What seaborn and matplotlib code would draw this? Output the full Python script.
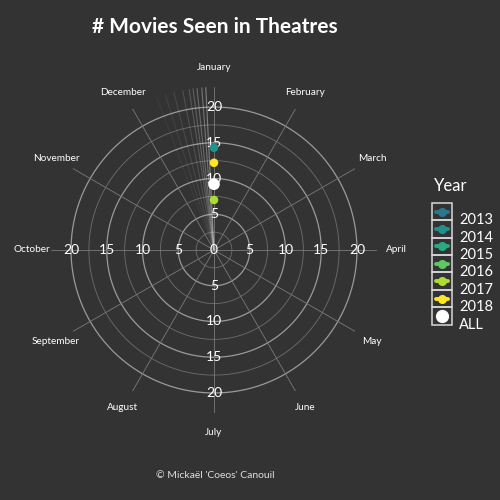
import matplotlib
matplotlib.use("Agg")
import matplotlib.pyplot as plt
from matplotlib.lines import Line2D
from matplotlib.patches import Rectangle
import numpy as np
import pandas as pd
import seaborn as sns

# data
months = ["January", "February", "March", "April", "May", "June",
          "July", "August", "September", "October", "November", "December"]
years = ["2013", "2014", "2015", "2016", "2017", "2018", "ALL"]
year_colors = ["#2a788e", "#21918c", "#25ac82", "#5ec962", "#addc30", "#fde725", "#ffffff"]
point_month = ["January", "January", "January", "January"]
point_year = ["2017", "ALL", "2018", "2014"]
point_count = [7, 9.2, 12.2, 14.3]
# faint trailing lines just before January (degrees before Jan), with alpha
trail_deg = [2.9, 4.3, 6.0, 7.4, 8.8, 11.1, 14.3, 17.4, 20.5]
trail_alpha = [0.45, 0.38, 0.32, 0.27, 0.22, 0.17, 0.13, 0.09, 0.06]
r_ticks = [5, 10, 15, 20]
r_minor = [2.5, 7.5, 12.5, 17.5]

bg = "#333333"
sns.set_style("dark", {"axes.facecolor": bg, "figure.facecolor": bg})
plt.rcParams["font.family"] = ["Lato", "DejaVu Sans"]

fig = plt.figure(figsize=(5, 5), dpi=100)
ax = fig.add_axes([0.102, 0.174, 0.652, 0.652], projection="polar")
ax.set_facecolor(bg)
ax.set_theta_zero_location("N")
ax.set_theta_direction(-1)
rmax = 22.8
ax.spines["polar"].set_visible(False)
ax.grid(False)

month_theta = {m: i * 2 * np.pi / 12 for i, m in enumerate(months)}

# grid circles
th = np.linspace(0, 2 * np.pi, 400)
for r in r_minor:
    ax.plot(th, np.full_like(th, r), color="#6e6e6e", lw=0.6, zorder=1)
for r in r_ticks:
    ax.plot(th, np.full_like(th, r), color="#9a9a9a", lw=0.9, zorder=1)
# month spokes
for m in months:
    ax.plot([month_theta[m]] * 2, [0, rmax], color="#7a7a7a", lw=0.6, zorder=1)
for d, a in zip(trail_deg, trail_alpha):
    t = np.deg2rad(-d)
    ax.plot([t, t], [0, rmax], color="#dddddd", lw=0.8, alpha=a, zorder=1)

# month labels
for m in months:
    ax.text(month_theta[m], 25.5, m, color="white", fontsize=7.2,
            ha="center", va="center", clip_on=False)

# radial labels in four directions
ax.text(0, 0, "0", color="white", fontsize=10, ha="center", va="center", zorder=3)
for r in r_ticks:
    for ang in [0, 90, 180, 270]:
        ax.text(np.deg2rad(ang), r, str(r), color="white", fontsize=10,
                ha="center", va="center", zorder=3)

df = pd.DataFrame({"month": point_month, "year": point_year, "count": point_count})
df["theta"] = df["month"].map(month_theta)
palette = dict(zip(years, year_colors))
sizes = {y: (70 if y == "ALL" else 38) for y in years}
sns.scatterplot(data=df, x="theta", y="count", hue="year", size="year",
                palette=palette, sizes=sizes, linewidth=0, legend=False,
                ax=ax, zorder=4)
ax.set_xlabel("")
ax.set_ylabel("")
ax.set_xticks([])
ax.set_yticks([])
ax.set_ylim(0, rmax)


class BoxKey:
    # legend key: white-bordered box with line + point inside
    def __init__(self, color, big=False):
        self.color = color
        self.big = big

    def legend_artist(self, legend, orig_handle, fontsize, handlebox):
        x0, y0 = handlebox.xdescent, handlebox.ydescent
        w, h = handlebox.width, handlebox.height
        tr = handlebox.get_transform()
        rect = Rectangle((x0, y0), w, h, facecolor="none", edgecolor="#d8d8d8",
                         lw=1.1, transform=tr)
        handlebox.add_artist(rect)
        if not self.big:
            ln = Line2D([x0 + 0.2 * w, x0 + 0.8 * w], [y0 + h / 2] * 2,
                        color=self.color, lw=2.8, transform=tr)
            handlebox.add_artist(ln)
            mk = Line2D([x0 + w / 2], [y0 + h / 2], color=self.color, lw=0,
                        marker="o", markersize=5.5, transform=tr)
        else:
            mk = Line2D([x0 + w / 2], [y0 + h / 2], color=self.color, lw=0,
                        marker="o", markersize=8.5, transform=tr)
        handlebox.add_artist(mk)
        return rect


handles = [Line2D([], [], color=c) for c in year_colors]
hmap = {h: BoxKey(c, y == "ALL") for h, c, y in zip(handles, year_colors, years)}
leg = fig.legend(handles, years, loc="center left",
                 bbox_to_anchor=(0.85, 0.457), frameon=False, fontsize=10.5,
                 handlelength=1.35, handleheight=1.46,
                 labelspacing=0, handletextpad=0.5, borderpad=0,
                 handler_map=hmap)
for t in leg.get_texts():
    t.set_color("white")
fig.text(0.868, 0.628, "Year", color="white", fontsize=12,
         ha="left", va="center")

fig.text(0.43, 0.946, "# Movies Seen in Theatres", color="white", fontsize=15,
         fontweight="bold", ha="center", va="center")
fig.text(0.43, 0.05, "\u00a9 Micka\u00ebl 'Coeos' Canouil", color="#dddddd",
         fontsize=7.5, ha="center", va="center")

fig.savefig("out.png", dpi=100, facecolor=bg)
